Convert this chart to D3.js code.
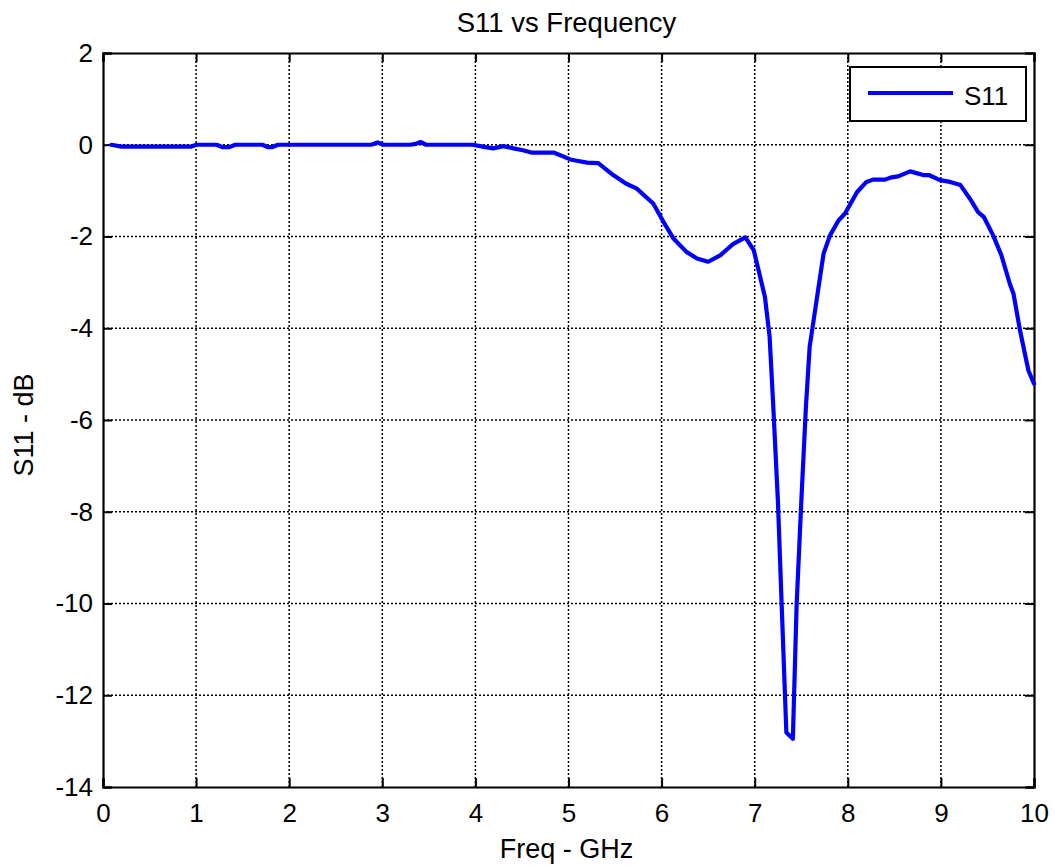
<!DOCTYPE html>
<html>
<head>
<meta charset="utf-8">
<script src="https://cdn.jsdelivr.net/npm/d3@7"></script>
<style>
  html, body { margin: 0; padding: 0; background: #fff; }
  svg { display: block; font-family: "Liberation Sans", Arial, sans-serif; }
</style>
</head>
<body>
<svg id="chart" width="1055" height="867"></svg>
<script>
// Frequency samples (GHz)
const freqGHz = [
  0.09, 0.2, 0.5, 0.8, 0.95, 1.0, 1.15, 1.22, 1.28, 1.36, 1.42, 1.5, 1.65, 1.71, 1.77, 1.82, 1.88,
  2.2, 2.6, 2.88, 2.95, 3.02, 3.1, 3.3, 3.36, 3.41, 3.47, 3.6, 3.9, 3.97,
  4.05, 4.19, 4.30, 4.41, 4.51, 4.60, 4.84, 5.02, 5.09, 5.20, 5.32, 5.48, 5.62, 5.73,
  5.91, 6.02, 6.13, 6.27, 6.38, 6.50, 6.63, 6.77, 6.90, 6.99,
  7.11, 7.16, 7.20, 7.25, 7.29, 7.34, 7.41, 7.45, 7.50, 7.55, 7.59, 7.67, 7.74,
  7.81, 7.90, 7.97, 8.10, 8.20, 8.27, 8.40, 8.47, 8.54, 8.67, 8.81, 8.87, 8.99,
  9.10, 9.21, 9.31, 9.40, 9.46, 9.56, 9.65, 9.74, 9.78, 9.85, 9.94, 10.0
];

// Reflection coefficient S11 (dB)
const s11dB = [
  0.0, -0.04, -0.04, -0.04, -0.04, 0.0, 0.0, 0.0, -0.05, -0.05, 0.0, 0.0, 0.0, 0.0, -0.05, -0.05, 0.0,
  0.0, 0.0, 0.0, 0.05, 0.0, 0.0, 0.0, 0.02, 0.06, 0.0, 0.0, 0.0, 0.0,
  -0.03, -0.08, -0.03, -0.08, -0.12, -0.17, -0.17, -0.32, -0.35, -0.39, -0.40, -0.66, -0.85, -0.95,
  -1.28, -1.68, -2.05, -2.34, -2.48, -2.55, -2.41, -2.16, -2.02, -2.30,
  -3.32, -4.18, -5.72, -7.80, -10.05, -12.81, -12.95, -10.05, -7.80, -5.72, -4.41, -3.32, -2.37,
  -1.97, -1.65, -1.50, -1.03, -0.81, -0.76, -0.76, -0.71, -0.69, -0.58, -0.66, -0.66, -0.77,
  -0.81, -0.88, -1.17, -1.47, -1.57, -1.97, -2.41, -3.03, -3.25, -4.05, -4.92, -5.21
];

const xTicks = [0, 1, 2, 3, 4, 5, 6, 7, 8, 9, 10];
const yTicks = [2, 0, -2, -4, -6, -8, -10, -12, -14];

const seriesName = "S11";
const titleText = "S11 vs Frequency";
const xLabel = "Freq - GHz";
const yLabel = "S11 - dB";

const svg = d3.select("#chart");
const margin = { left: 103, right: 21, top: 53, bottom: 80 };
const W = 1055, H = 867;
const x0 = margin.left, x1 = W - margin.right;
const y0 = margin.top, y1 = H - margin.bottom;
const font = "'Liberation Sans', Arial, sans-serif";

const x = d3.scaleLinear().domain([0, 10]).range([x0, x1]);
const y = d3.scaleLinear().domain([-14, 2]).range([y1, y0]);

// Plot background
svg.append("rect").attr("x", x0).attr("y", y0)
  .attr("width", x1 - x0).attr("height", y1 - y0).attr("fill", "#fff");

// Dotted grid
const grid = svg.append("g").attr("stroke", "#000").attr("stroke-width", 1.5)
  .attr("stroke-dasharray", "2,2");
grid.selectAll(".gx").data(xTicks.slice(1, -1)).enter().append("line")
  .attr("x1", d => x(d)).attr("x2", d => x(d)).attr("y1", y0).attr("y2", y1);
grid.selectAll(".gy").data(yTicks.slice(1, -1)).enter().append("line")
  .attr("y1", d => y(d)).attr("y2", d => y(d)).attr("x1", x0).attr("x2", x1);

// Axes with inward ticks on all four sides
const tickLen = 9;
const fmt = d => String(d);
const xAxisB = d3.axisBottom(x).tickValues(xTicks).tickSize(-tickLen).tickPadding(17).tickFormat(fmt);
const xAxisT = d3.axisTop(x).tickValues(xTicks).tickSize(-tickLen).tickFormat("");
const yAxisL = d3.axisLeft(y).tickValues(yTicks).tickSize(-tickLen).tickPadding(10).tickFormat(fmt);
const yAxisR = d3.axisRight(y).tickValues(yTicks).tickSize(-tickLen).tickFormat("");

function styleAxis(g) {
  g.select(".domain").attr("stroke", "#000").attr("stroke-width", 2.2);
  g.selectAll(".tick line").attr("stroke", "#000").attr("stroke-width", 2);
  g.selectAll(".tick text").attr("fill", "#000").attr("font-size", 26)
    .attr("font-family", font);
}
svg.append("g").attr("transform", `translate(0,${y1})`).call(xAxisB).call(styleAxis);
svg.append("g").attr("transform", `translate(0,${y0})`).call(xAxisT).call(styleAxis);
svg.append("g").attr("transform", `translate(${x0},0)`).call(yAxisL).call(styleAxis);
svg.append("g").attr("transform", `translate(${x1},0)`).call(yAxisR).call(styleAxis);

// Data line
const line = d3.line().x((d, i) => x(freqGHz[i])).y(d => y(d)).curve(d3.curveLinear);
svg.append("path").datum(s11dB).attr("d", line)
  .attr("fill", "none").attr("stroke", "#0000ff").attr("stroke-width", 4.2)
  .attr("stroke-linejoin", "round").attr("stroke-linecap", "round");

// Title and axis labels
svg.append("text").attr("x", (x0 + x1) / 2 - 2).attr("y", 32).attr("text-anchor", "middle")
  .attr("font-size", 27.5).attr("fill", "#000").text(titleText);
svg.append("text").attr("x", (x0 + x1) / 2 - 2).attr("y", 858).attr("text-anchor", "middle")
  .attr("font-size", 27).attr("fill", "#000").text(xLabel);
svg.append("text").attr("transform", `translate(33,${(y0 + y1) / 2 + 5}) rotate(-90)`)
  .attr("text-anchor", "middle").attr("font-size", 27).attr("fill", "#000").text(yLabel);

// Legend
const lg = svg.append("g");
lg.append("rect").attr("x", 850).attr("y", 67).attr("width", 176).attr("height", 54)
  .attr("fill", "#fff").attr("stroke", "#000").attr("stroke-width", 2);
lg.append("line").attr("x1", 868).attr("x2", 953).attr("y1", 93).attr("y2", 93)
  .attr("stroke", "#0000ff").attr("stroke-width", 4.2);
lg.append("text").attr("x", 964).attr("y", 105).attr("font-size", 26).attr("fill", "#000").text(seriesName);
</script>
</body>
</html>
